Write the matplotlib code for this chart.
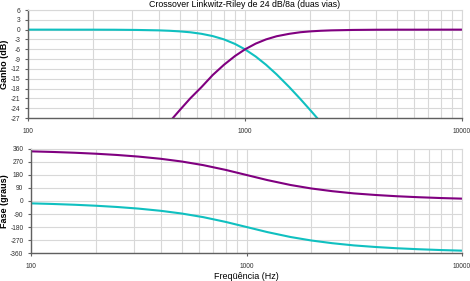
import matplotlib.pyplot as plt
from matplotlib.ticker import FixedLocator, LogLocator, NullFormatter

plt.rcParams['font.family'] = ['Liberation Sans', 'DejaVu Sans']

# ganho (dB)
freq_g = [100, 125, 160, 200, 250, 315, 400, 450, 500, 560, 630, 710, 800, 900, 1000,
          1120, 1250, 1400, 1600, 1800, 2000, 2240, 2500, 3150, 4000, 5000, 6300, 8000, 10000]
ganho_pb = [0.0, 0.0, -0.01, -0.01, -0.03, -0.09, -0.22, -0.35, -0.53, -0.81, -1.27, -1.97,
            -2.98, -4.38, -6.02, -8.21, -10.73, -13.7, -17.56, -21.21, -24.61, -28.36, -32.05,
            -39.96, -48.2, -55.9, -63.9, -72.3, -80.0]
ganho_pa = [-80.0, -72.3, -63.9, -55.9, -48.2, -39.96, -32.05, -28.09, -24.61, -20.96, -17.56,
            -13.86, -10.73, -8.04, -6.02, -4.27, -2.98, -2.01, -1.27, -0.79, -0.53, -0.34, -0.22,
            -0.09, -0.03, -0.01, -0.01, 0.0, 0.0]

# fase (graus)
freq_f = [100, 125, 160, 200, 250, 315, 400, 500, 630, 800, 1000,
          1250, 1600, 2000, 2500, 3150, 4000, 5000, 6300, 8000, 10000]
fase_pb = [-16.3, -20.4, -26.1, -32.8, -41.3, -52.6, -67.9, -86.6, -111.8, -144.7, -180.0,
           -215.3, -249.2, -273.4, -292.1, -307.4, -318.7, -327.2, -333.9, -339.6, -343.7]
fase_pa = [343.7, 339.6, 333.9, 327.2, 318.7, 307.4, 292.1, 273.4, 248.2, 215.3, 180.0,
           144.7, 110.8, 86.6, 67.9, 52.6, 41.3, 32.8, 26.1, 20.4, 16.3]

cor_pb = '#10c0c0'
cor_pa = '#800080'
grade = '#d8d8d8'
eixo = '#606060'

fig = plt.figure(figsize=(4.7, 2.81), dpi=100)
ax1 = fig.add_axes([0.0596, 0.580, 0.9234, 0.3844])
ax2 = fig.add_axes([0.066, 0.0996, 0.917, 0.3702])


def estilo(ax, yticks):
    ax.set_xscale('log')
    ax.set_xlim(100, 10000)
    ax.set_ylim(yticks[0], yticks[-1])
    ax.yaxis.set_major_locator(FixedLocator(yticks))
    ax.set_yticklabels([str(t) for t in yticks])
    ax.xaxis.set_major_locator(FixedLocator([100, 1000, 10000]))
    ax.set_xticklabels(['100', '1000', '10000'])
    ax.xaxis.set_minor_locator(LogLocator(base=10, subs=range(2, 10)))
    ax.xaxis.set_minor_formatter(NullFormatter())
    ax.grid(True, which='both', color=grade, lw=0.8)
    ax.set_axisbelow(True)
    for s in ['top', 'right']:
        ax.spines[s].set_color(grade)
        ax.spines[s].set_linewidth(0.8)
    for s in ['left', 'bottom']:
        ax.spines[s].set_color(eixo)
        ax.spines[s].set_linewidth(1.0)
    ax.tick_params(axis='both', which='major', labelsize=4.8, colors=eixo,
                   labelcolor='#303030', length=2.5, width=0.8, pad=3)
    ax.tick_params(axis='x', which='major', pad=5)
    ax.tick_params(axis='x', which='minor', length=0)


ax1.plot(freq_g, ganho_pb, c=cor_pb, lw=1.5)
ax1.plot(freq_g, ganho_pa, c=cor_pa, lw=1.5)
estilo(ax1, list(range(-27, 7, 3)))
ax1.set_ylabel('Ganho (dB)', fontsize=6.5, fontweight='bold')
ax1.yaxis.set_label_coords(-0.044, 0.5)
ax1.set_title('Crossover Linkwitz-Riley de 24 dB/8a (duas vias)', fontsize=6.3, pad=2)

ax2.plot(freq_f, fase_pa, c=cor_pa, lw=1.5)
ax2.plot(freq_f, fase_pb, c=cor_pb, lw=1.5)
estilo(ax2, list(range(-360, 361, 90)))
ax2.set_ylabel('Fase (graus)', fontsize=6.5, fontweight='bold')
ax2.yaxis.set_label_coords(-0.050, 0.5)
ax2.set_xlabel('Freqüência (Hz)', fontsize=6.5)
ax2.xaxis.set_label_coords(0.5, -0.18)

plt.savefig('out.png', dpi=100)
plt.close()
